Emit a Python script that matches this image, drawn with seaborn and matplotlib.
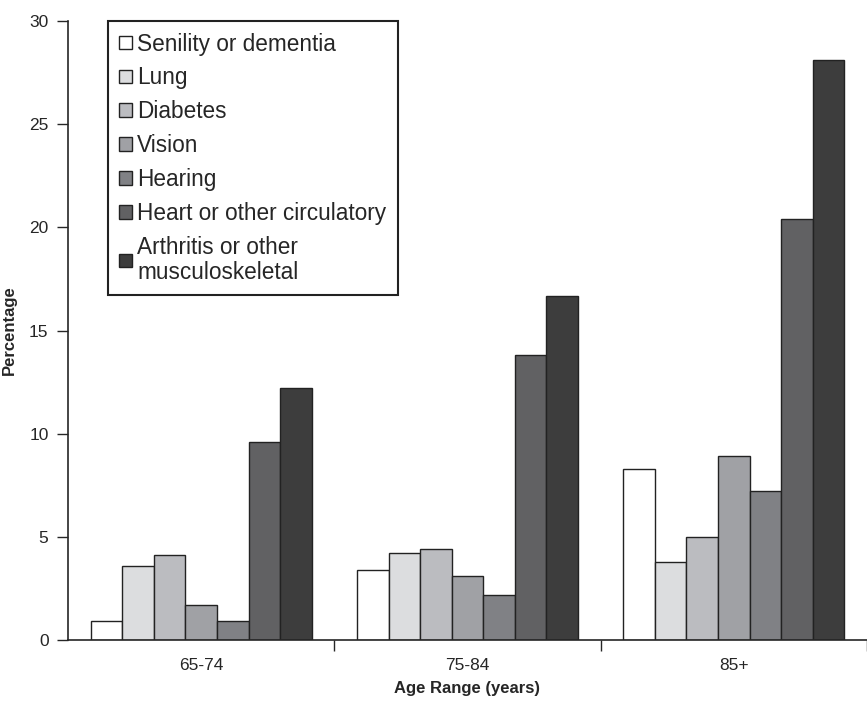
import pandas as pd
import matplotlib
matplotlib.use('Agg')
import matplotlib.pyplot as plt
import seaborn as sns

# values
age_ranges = ['65-74', '75-84', '85+']
conditions = ['Senility or dementia', 'Lung', 'Diabetes', 'Vision', 'Hearing',
              'Heart or other circulatory', 'Arthritis or other\nmusculoskeletal']
senility = [0.9, 3.4, 8.3]
lung = [3.6, 4.2, 3.8]
diabetes = [4.1, 4.4, 5.0]
vision = [1.7, 3.1, 8.9]
hearing = [0.9, 2.2, 7.2]
heart = [9.6, 13.8, 20.4]
arthritis = [12.2, 16.7, 28.1]
grays = ['#ffffff', '#dcdddf', '#bbbcc0', '#a0a1a5', '#808185', '#616163', '#3d3d3d']

series = [senility, lung, diabetes, vision, hearing, heart, arthritis]
rows = []
for cond, vals in zip(conditions, series):
    for age, v in zip(age_ranges, vals):
        rows.append({'Age': age, 'Condition': cond, 'Percentage': v})
df = pd.DataFrame(rows)

sns.set_style('ticks')
plt.rcParams['font.family'] = ['Liberation Sans', 'DejaVu Sans']

fig = plt.figure(figsize=(8.67, 7.04), dpi=100)
ax = fig.add_axes([0.0784, 0.0909, 0.9216, 0.879])

sns.barplot(data=df, x='Age', y='Percentage', hue='Condition', order=age_ranges,
            hue_order=conditions, palette=grays, width=0.83, edgecolor='#222222',
            linewidth=1.0, saturation=1, ax=ax)

ax.set_xlim(-0.5, 2.5)
ax.set_ylim(0, 30)
ax.set_yticks([0, 5, 10, 15, 20, 25, 30])
ax.tick_params(axis='y', length=8, width=1, labelsize=12.5, direction='out', pad=6)
ax.tick_params(axis='x', which='major', length=0, labelsize=12.5, pad=13)
ax.set_xticks([0.5, 1.5, 2.5], minor=True)
ax.tick_params(axis='x', which='minor', length=8, width=1, direction='out')
ax.spines['top'].set_visible(False)
ax.spines['right'].set_visible(False)
ax.spines['left'].set_linewidth(1.2)
ax.spines['bottom'].set_linewidth(1.2)

ax.set_xlabel('Age Range (years)', fontsize=12, fontweight='bold', labelpad=6)
ax.set_ylabel('Percentage', fontsize=12, fontweight='bold')
ax.yaxis.set_label_coords(-0.064, 0.5)

leg = ax.legend(loc='upper left', bbox_to_anchor=(0.05, 1.0), borderaxespad=0,
                fontsize=16.3, frameon=True, fancybox=False, handlelength=0.55,
                handleheight=0.55, handletextpad=0.25, labelspacing=0.48,
                borderpad=0.5)
leg.get_frame().set_edgecolor('#222222')
leg.get_frame().set_linewidth(1.5)
leg.get_frame().set_alpha(1)
for t in leg.get_texts():
    t.set_linespacing(1.1)

fig.savefig('out.png', dpi=100)
